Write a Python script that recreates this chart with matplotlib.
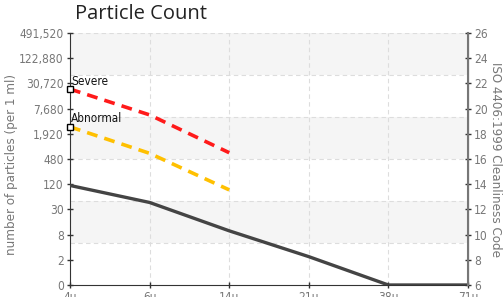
import matplotlib.pyplot as plt
from matplotlib import font_manager

sizes = ['4\u03bc', '6\u03bc', '14\u03bc', '21\u03bc', '38\u03bc', '71\u03bc']
# values are ISO 4406 codes (right axis)
measured = [13.9, 12.55, 10.3, 8.25, 6.0, 6.0]
severe = [21.55, 19.5, 16.5]
abnormal = [18.55, 16.45, 13.55]
count_labels = ['0', '2', '8', '30', '120', '480', '1,920', '7,680',
                '30,720', '122,880', '491,520']
code_ticks = [6, 8, 10, 12, 14, 16, 18, 20, 22, 24, 26]

# look for a condensed face, like the reference uses
font_kw = {'family': 'DejaVu Sans'}
cands = [f for f in font_manager.fontManager.ttflist
         if 'condensed' in str(f.stretch).lower() or 'Narrow' in f.name or 'Condensed' in f.name]
if cands:
    font_kw = {'family': cands[0].name, 'stretch': cands[0].stretch}
    tick_fs, lab_fs = 8.6, 9.5
else:
    tick_fs, lab_fs = 8, 7.5

fig = plt.figure(figsize=(5.04, 2.97), dpi=100)
ax = fig.add_axes([70 / 504, 12 / 297, 398 / 504, 252 / 297])
x = list(range(len(sizes)))

# alternating bands, 6 equal divisions
lo, hi = 6, 26
step = (hi - lo) / 6
for k in range(6):
    y0 = lo + k * step
    if k % 2 == 1:
        ax.axhspan(y0, y0 + step, color='#f5f5f5', zorder=0, lw=0)
    ax.axhline(y0 + step, color='#dddddd', lw=0.8, ls=(0, (4, 3)), zorder=1)
for xi in x:
    ax.axvline(xi, color='#dddddd', lw=0.8, ls=(0, (4, 3)), zorder=1)

ax.plot(x, measured, color='#444444', lw=2.4, zorder=3, solid_capstyle='butt')
ax.plot(x[:3], severe, color='#ff1a1a', lw=2.6, ls=(0, (3, 2)), zorder=3)
ax.plot(x[:3], abnormal, color='#ffc000', lw=2.6, ls=(0, (3, 2)), zorder=3)
ax.plot([0], [severe[0]], marker='s', ms=5, mfc='white', mec='black', mew=1, zorder=5, clip_on=False)
ax.plot([0], [abnormal[0]], marker='s', ms=5, mfc='white', mec='black', mew=1, zorder=5, clip_on=False)
ax.text(0.01, severe[0] + 0.35, 'Severe', fontsize=8.5, color='#111111', zorder=6, **font_kw)
ax.text(0.01, abnormal[0] + 0.35, 'Abnormal', fontsize=8.5, color='#111111', zorder=6, **font_kw)

ax.set_xlim(0, len(sizes) - 1)
ax.set_ylim(lo, hi)
ax.set_xticks(x)
ax.set_xticklabels(sizes)
ax.set_yticks(code_ticks)
ax.set_yticklabels(count_labels)
ax.set_ylabel('number of particles (per 1 ml)', fontsize=lab_fs, color='#777777', va='center', **font_kw)
ax.yaxis.set_label_coords(-0.148, 0.48)

ax2 = ax.twinx()
ax2.set_ylim(lo, hi)
ax2.set_yticks(code_ticks)
ax2.set_ylabel('ISO 4406:1999 Cleanliness Code', fontsize=lab_fs, color='#777777',
               rotation=270, va='center', **font_kw)
ax2.yaxis.set_label_coords(1.07, 0.5)

for a in (ax, ax2):
    a.spines['top'].set_visible(False)
    a.tick_params(direction='inout', length=5, width=1, colors='#333333', labelcolor='#777777', pad=2)
    for lab in a.get_xticklabels() + a.get_yticklabels():
        lab.set_fontproperties(font_manager.FontProperties(size=tick_fs, **font_kw))
ax.spines['left'].set_color('#333333')
ax.spines['bottom'].set_color('#333333')
ax2.spines['right'].set_color('#777777')
ax2.spines['right'].set_linewidth(1.5)
ax2.spines['left'].set_visible(False)
ax2.spines['bottom'].set_visible(False)

fig.text(75 / 504, 1 - 14 / 297, 'Particle Count', fontsize=14.5, family='Open Sans',
         color='#222222', va='center', ha='left')

fig.savefig('out.png', dpi=100)
